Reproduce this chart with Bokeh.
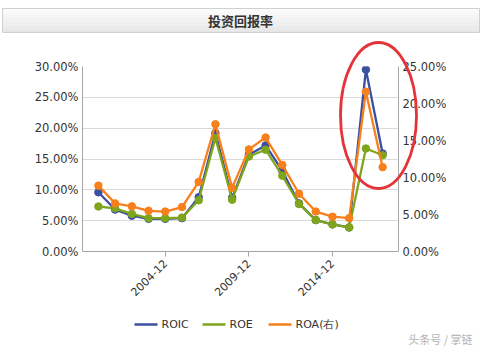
from bokeh.plotting import figure
from bokeh.models import Range1d, LinearAxis, NumeralTickFormatter, FixedTicker
from bokeh.core.properties import value
from bokeh.embed import file_html
from bokeh.resources import INLINE
import math

years = list(range(2000, 2018))
tick_years = [2004, 2009, 2014]
tick_labels = {2004: "2004-12", 2009: "2009-12", 2014: "2014-12"}
roic = [9.6, 6.8, 5.8, 5.3, 5.3, 5.4, 8.8, 19.2, 8.7, 15.7, 17.2, 13.1, 7.8, 5.1, 4.4, 3.9, 29.5, 15.9]
roe = [7.3, 7.0, 6.1, 5.4, 5.4, 5.5, 8.3, 18.4, 8.4, 15.4, 16.5, 12.3, 7.7, 5.1, 4.4, 3.9, 16.7, 15.6]
roa = [8.9, 6.5, 6.1, 5.5, 5.4, 6.0, 9.4, 17.2, 8.6, 13.8, 15.4, 11.7, 7.8, 5.4, 4.7, 4.5, 21.6, 11.4]
names = ["ROIC", "ROE", "ROA(右)"]
colors = ["#3b4fa3", "#7ea51c", "#f7801d"]
title_text = "投资回报率"
watermark = "头条号 / 掌链"

W, H = 484, 351
FL, FR, FT, FB = 82, 398, 66, 251          # frame edges in pixels
X0, X1 = 1999.05, 2017.95
Y1 = 0.30

p = figure(width=W, height=H, output_backend="svg", toolbar_location=None,
           x_range=Range1d(X0, X1), y_range=Range1d(0, Y1),
           min_border_left=FL, min_border_right=W - FR, min_border_top=FT, min_border_bottom=H - FB)
p.outline_line_color = None
p.extra_y_ranges = {"right": Range1d(0, 0.25)}

def sx(px):  # screen x -> data x
    return X0 + (px - FL) / (FR - FL) * (X1 - X0)

def sy(py):  # screen y -> data y (left range)
    return Y1 * (FB - py) / (FB - FT)

lab_font = "DejaVu Sans"
p.yaxis[0].ticker = FixedTicker(ticks=[0, 0.05, 0.10, 0.15, 0.20, 0.25, 0.30])
p.yaxis[0].formatter = NumeralTickFormatter(format="0.00%")
rax = LinearAxis(y_range_name="right", ticker=FixedTicker(ticks=[0, 0.05, 0.10, 0.15, 0.20, 0.25]),
                 formatter=NumeralTickFormatter(format="0.00%"))
p.add_layout(rax, "right")
for ax in [p.yaxis[0], rax]:
    ax.axis_line_color = "#a6a6a6"
    ax.major_tick_line_color = None
    ax.major_tick_in = 0
    ax.major_tick_out = 0
    ax.minor_tick_line_color = None
    ax.minor_tick_out = 0
    ax.major_label_text_font = lab_font
    ax.major_label_text_font_size = "11.5px"
    ax.major_label_text_color = "#333333"
    ax.major_label_standoff = 4

xa = p.xaxis[0]
xa.ticker = FixedTicker(ticks=tick_years)
xa.major_label_overrides = tick_labels
xa.major_label_orientation = math.pi / 4
xa.axis_line_color = "#a6a6a6"
xa.major_tick_line_color = "#a6a6a6"
xa.major_tick_in = 0
xa.major_tick_out = 5
xa.minor_tick_line_color = None
xa.major_label_text_font = lab_font
xa.major_label_text_font_size = "11px"
xa.major_label_text_color = "#333333"

p.xgrid.grid_line_color = None
p.ygrid.grid_line_color = "#d9d9d9"
p.ygrid.ticker = FixedTicker(ticks=[0.05, 0.10, 0.15, 0.20, 0.25, 0.30])

for name, vals, c, rng in zip(names, [roic, roe, roa], colors, ["default", "default", "right"]):
    ys = [v / 100 for v in vals]
    p.line(years, ys, line_color=c, line_width=2.3, y_range_name=rng)
    p.scatter(years, ys, size=7.5, fill_color=c, line_color=c, y_range_name=rng)

# legend (drawn below the frame at overlay level so it is not clipped)
leg_x = [134, 202, 268]
leg_y = 324
for name, c, lx in zip(names, colors, leg_x):
    p.segment(x0=[sx(lx)], x1=[sx(lx + 23)], y0=[sy(leg_y)], y1=[sy(leg_y)],
              line_color=c, line_width=2.5, level="overlay")
    p.scatter(x=[sx(lx + 11.5)], y=[sy(leg_y)], size=5, fill_color=c, line_color=c, level="overlay")
    p.text(x=[sx(lx + 27)], y=[sy(leg_y)], text=[name], text_font=value(lab_font),
           text_font_size="11px", text_color="#333333", text_align="left",
           text_baseline="middle", level="overlay")

# title bar (gradient built from thin bands)
nb = 12
top, bot = 8, 32
for i in range(nb):
    t = i / (nb - 1)
    g = int(round(252 - t * (252 - 228)))
    y_a = top + (bot - top) * i / nb
    y_b = top + (bot - top) * (i + 1) / nb
    p.quad(left=[sx(2)], right=[sx(479)], top=[sy(y_a)], bottom=[sy(y_b)],
           fill_color=(g, g, g), line_color=None, level="overlay")
p.quad(left=[sx(2)], right=[sx(479)], top=[sy(top)], bottom=[sy(bot)],
       fill_color=None, line_color="#d0d0d0", line_width=1, level="overlay")
p.text(x=[sx(240)], y=[sy(20)], text=[title_text], text_font=value("Noto Sans CJK SC"),
       text_font_style="bold", text_font_size="13px", text_color="#333333",
       text_align="center", text_baseline="middle", level="overlay")

# highlight ellipse
p.ellipse(x=[sx(378)], y=[sy(115)], width=76, height=146, width_units="screen", height_units="screen",
          fill_color=None, line_color="#e5333a", line_width=2.8, level="overlay")

# watermark
p.text(x=[sx(472)], y=[sy(338)], text=[watermark], text_font=value("Noto Sans CJK SC"),
       text_font_size="11px", text_color="#b4b4b4", text_align="right",
       text_baseline="middle", level="overlay")

open("out.html", "w").write(file_html(p, INLINE))
